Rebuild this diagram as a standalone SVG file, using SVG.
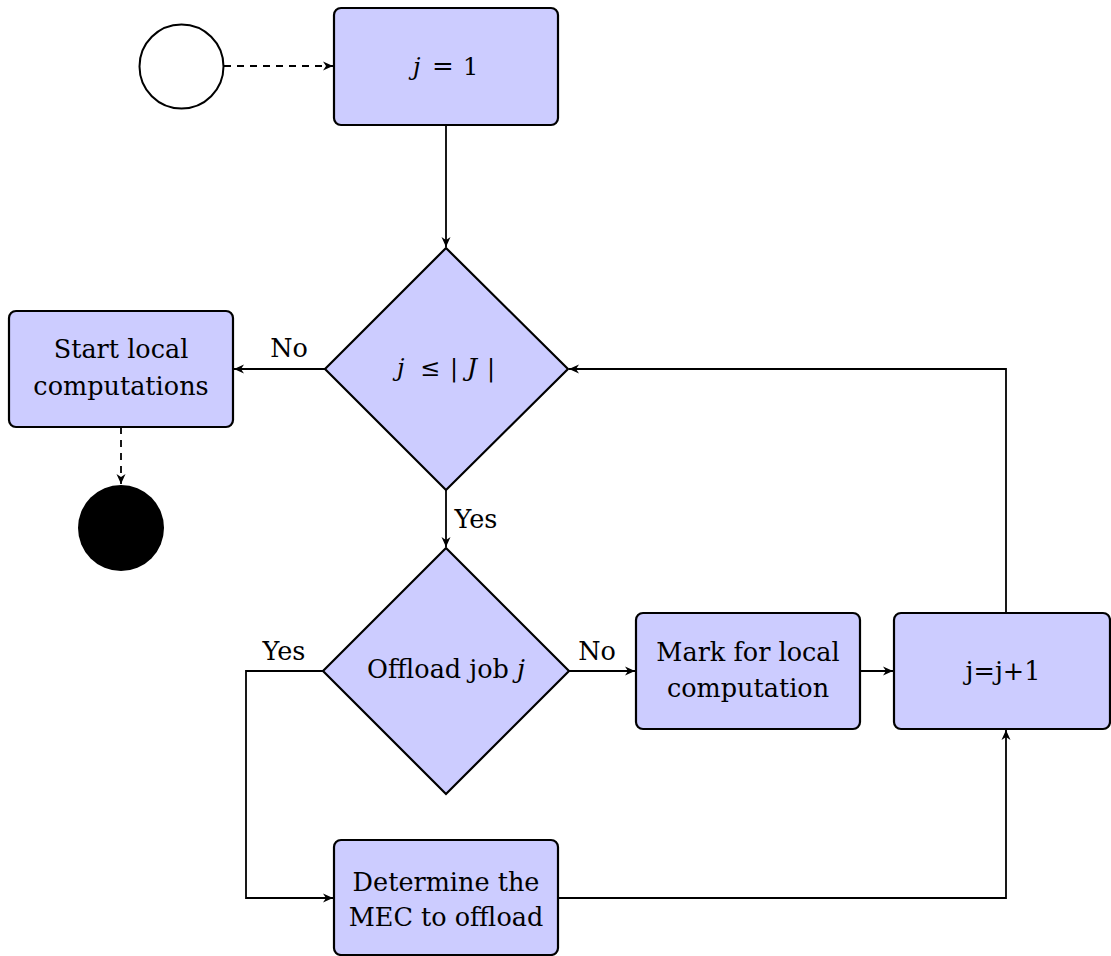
<svg xmlns="http://www.w3.org/2000/svg" width="1111" height="956" viewBox="0 0 1111 956">
<style>
.node{fill:#ccccff;stroke:#000;stroke-width:2.2}
.t{font-family:"DejaVu Serif","Liberation Serif",serif;font-size:25.5px;fill:#000;text-anchor:middle}
.m{font-family:"DejaVu Serif","Liberation Serif",serif;font-size:24px;fill:#000}
.c{fill:none;stroke:#000;stroke-width:1.8}
.d{stroke-dasharray:7,6}
</style>
<defs>
<marker id="arr" viewBox="-11 -5 12 10" refX="0" refY="0" markerWidth="12" markerHeight="10" markerUnits="userSpaceOnUse" orient="auto">
<path d="M0,0 L-10,-4.5 L-7,0 L-10,4.5 Z" fill="#000"/>
</marker>
</defs>
<rect width="1111" height="956" fill="#fff"/>
<g id="connectors">
<path class="c d" d="M224,66 H333" marker-end="url(#arr)"/>
<path class="c" d="M446,125 V247" marker-end="url(#arr)"/>
<path class="c" d="M325,369 H234" marker-end="url(#arr)"/>
<path class="c d" d="M121,427 V484" marker-end="url(#arr)"/>
<path class="c" d="M446,490 V547" marker-end="url(#arr)"/>
<path class="c" d="M569,671 H635" marker-end="url(#arr)"/>
<path class="c" d="M860,671 H893" marker-end="url(#arr)"/>
<path class="c" d="M323,671 H246 V898 H333" marker-end="url(#arr)"/>
<path class="c" d="M558,898 H1006 V730" marker-end="url(#arr)"/>
<path class="c" d="M1006,613 V369 H569" marker-end="url(#arr)"/>
<text class="t" x="289" y="357">No</text>
<text class="t" x="476" y="528">Yes</text>
<text class="t" x="284" y="660">Yes</text>
<text class="t" x="597" y="660">No</text>
</g>
<g id="start">
<circle cx="181.5" cy="66.5" r="42" fill="#fff" stroke="#000" stroke-width="2"/>
</g>
<g id="init">
<rect class="node" x="334" y="8" width="224" height="117" rx="7"/>
<text class="m" y="75"><tspan x="413" font-style="italic">j</tspan><tspan x="432" font-size="26">=</tspan><tspan x="463">1</tspan></text>
</g>
<g id="cond">
<polygon class="node" points="446,248 568,369 446,490 325,369"/>
<text class="m" y="376"><tspan x="397" font-style="italic">j</tspan><tspan x="420">≤</tspan><tspan x="450">|</tspan><tspan x="467" font-style="italic" font-size="25">J</tspan><tspan x="487">|</tspan></text>
</g>
<g id="startlocal">
<rect class="node" x="9" y="311" width="224" height="116" rx="7"/>
<text class="t" x="121" y="358">Start local</text>
<text class="t" x="121" y="395">computations</text>
</g>
<g id="end">
<circle cx="121" cy="528" r="43" fill="#000"/>
</g>
<g id="offload">
<polygon class="node" points="446,548 569,671 446,794 323,671"/>
<text class="t" x="446" y="678">Offload job <tspan font-style="italic">j</tspan></text>
</g>
<g id="mark">
<rect class="node" x="636" y="613" width="224" height="116" rx="7"/>
<text class="t" x="748" y="661">Mark for local</text>
<text class="t" x="748" y="697">computation</text>
</g>
<g id="incr">
<rect class="node" x="894" y="613" width="216" height="116" rx="7"/>
<text class="t" x="1003" y="680">j=j+1</text>
</g>
<g id="determine">
<rect class="node" x="334" y="840" width="224" height="115" rx="7"/>
<text class="t" x="446" y="891">Determine the</text>
<text class="t" x="446" y="926">MEC to offload</text>
</g>
</svg>
